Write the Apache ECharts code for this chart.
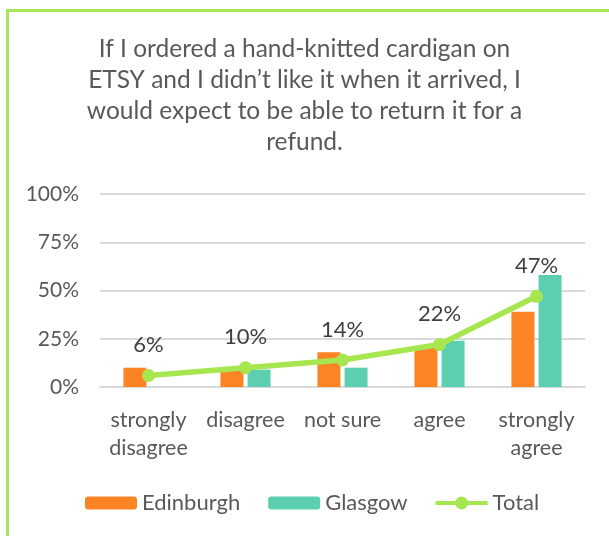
<!DOCTYPE html>
<html>
<head>
<meta charset="utf-8">
<script src="https://cdn.jsdelivr.net/npm/echarts@6/dist/echarts.min.js"></script>
<style>
  html, body { margin: 0; padding: 0; background: #ffffff; }
  #chart { width: 609px; height: 536px; }
</style>
</head>
<body>
<div id="chart"></div>
<script>
// Survey answers, share of respondents per answer
const categories = ['strongly disagree', 'disagree', 'not sure', 'agree', 'strongly agree'];
const edinburgh = [10, 10, 18, 21, 39];
const glasgow = [0, 9, 10, 24, 58];
const total = [6, 10, 14, 22, 47];
const yTicks = [0, 25, 50, 75, 100];

const titleLines = [
  'If I ordered a hand-knitted cardigan on',
  'ETSY and I didn\u2019t like it when it arrived, I',
  'would expect to be able to return it for a',
  'refund.'
];

const FONT = 'Lato, "Open Sans", sans-serif';
const GREY = '#595959';
const GREEN = '#a6e64f';

// Legend key for the line series: a thick stroke with a dot in the middle
const lineKeyIcon = 'path://M0,4.5H20V8.5H0Z M32,4.5H52V8.5H32Z ' +
  'M19.5,6.5A6.5,6.5 0 1,1 32.5,6.5A6.5,6.5 0 1,1 19.5,6.5Z';

const chart = echarts.init(document.getElementById('chart'), null, { renderer: 'canvas' });

chart.setOption({
  backgroundColor: '#ffffff',
  animation: false,
  graphic: [{
    type: 'rect',
    shape: { x: 7.5, y: 10.5, width: 900, height: 900 },
    style: { fill: 'none', stroke: '#a6e45a', lineWidth: 3 },
    silent: true
  }],
  title: {
    text: titleLines.join('\n'),
    left: 'center',
    top: 29,
    textStyle: {
      fontFamily: FONT,
      fontSize: 24.5,
      fontWeight: 'normal',
      color: GREY,
      lineHeight: 31
    }
  },
  legend: {
    bottom: 17,
    left: 80,
    itemWidth: 52,
    itemHeight: 13,
    itemGap: 28,
    textStyle: { fontFamily: FONT, fontSize: 22, color: GREY },
    data: [
      { name: 'Edinburgh' },
      { name: 'Glasgow' },
      { name: 'Total', icon: lineKeyIcon }
    ]
  },
  grid: {
    left: 100,
    right: 24,
    top: 194,
    bottom: 149,
    containLabel: false
  },
  xAxis: {
    type: 'category',
    data: categories,
    axisLine: { show: true, lineStyle: { color: '#d9d9d9', width: 2 } },
    axisTick: { show: false },
    axisLabel: {
      fontFamily: FONT,
      fontSize: 21.5,
      color: GREY,
      lineHeight: 28,
      margin: 19,
      interval: 0,
      formatter: v => v.replace('strongly ', 'strongly\n')
    }
  },
  yAxis: {
    type: 'value',
    min: yTicks[0],
    max: yTicks[yTicks.length - 1],
    interval: yTicks[1] - yTicks[0],
    axisLine: { show: false },
    axisTick: { show: false },
    splitLine: { lineStyle: { color: '#d9d9d9', width: 2 } },
    axisLabel: {
      fontFamily: FONT,
      fontSize: 21,
      color: GREY,
      margin: 21,
      formatter: '{value}%'
    }
  },
  series: [
    {
      name: 'Edinburgh',
      type: 'bar',
      data: edinburgh,
      barWidth: 23,
      barGap: '18%',
      itemStyle: { color: '#fd8425' }
    },
    {
      name: 'Glasgow',
      type: 'bar',
      data: glasgow,
      barWidth: 23,
      itemStyle: { color: '#5bcfb0' }
    },
    {
      name: 'Total',
      type: 'line',
      data: total,
      symbol: 'circle',
      symbolSize: 13,
      lineStyle: { color: GREEN, width: 5.5 },
      itemStyle: { color: GREEN },
      label: {
        show: true,
        position: 'top',
        distance: 13,
        fontFamily: FONT,
        fontSize: 22,
        color: '#404040',
        formatter: p => p.value + '%'
      },
      z: 5
    }
  ]
});
</script>
</body>
</html>
